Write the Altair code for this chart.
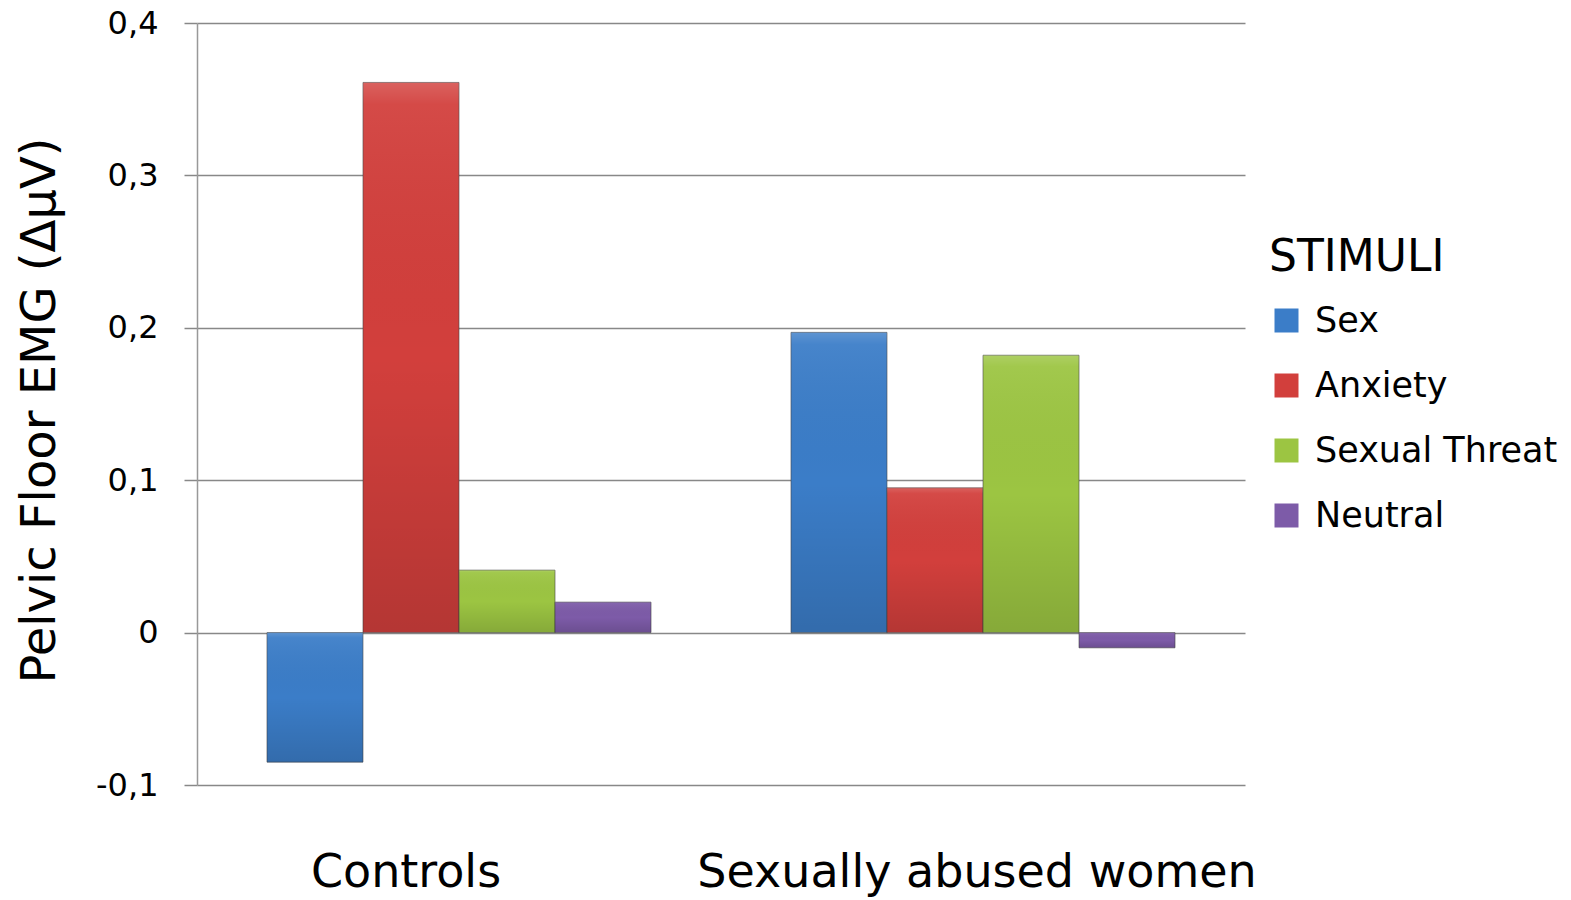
import altair as alt
import pandas as pd

groups = ["Controls", "Sexually abused women"]
stimuli = ["Sex", "Anxiety", "Sexual Threat", "Neutral"]
controls_vals = [-0.085, 0.361, 0.041, 0.020]
abused_vals = [0.197, 0.095, 0.182, -0.010]
colors = ["#3b7dc8", "#d23f3c", "#9cc542", "#7d5ba8"]

rows = []
for s, v in zip(stimuli, controls_vals):
    rows.append({"group": groups[0], "stim": s, "value": v})
for s, v in zip(stimuli, abused_vals):
    rows.append({"group": groups[1], "stim": s, "value": v})
df = pd.DataFrame(rows)

FONT = "DejaVu Sans"

x_enc = alt.X("group:N", sort=groups, title=None,
              scale=alt.Scale(paddingInner=0, paddingOuter=0),
              axis=alt.Axis(labelAngle=0, labelFontSize=46, labelFont=FONT, labelColor="#000",
                            labelLimit=0,
                            labelOffset={"condition": {"test": "datum.label == 'Controls'", "value": -53},
                                         "value": -6},
                            ticks=False, domain=False, grid=False, labelPadding=65))
xo_enc = alt.XOffset("stim:N", sort=stimuli,
                     scale=alt.Scale(paddingInner=0, paddingOuter=0.729))
y_enc = alt.Y("value:Q", title="Pelvic Floor EMG (ΔμV)",
              scale=alt.Scale(domain=[-0.1, 0.4], nice=False),
              axis=alt.Axis(values=[-0.1, 0, 0.1, 0.2, 0.3, 0.4],
                            labelExpr="datum.value == 0 ? '0' : replace(replace(format(datum.value, '.1f'), '.', ','), '\u2212', '-')",
                            labelFontSize=32, labelFont=FONT, labelColor="#000", labelPadding=26,
                            tickSize=13, tickColor="#888888", tickWidth=1.5,
                            domainColor="#999999", domainWidth=1.5,
                            grid=True, gridColor="#888888", gridWidth=1.5,
                            titleFontSize=48, titleFont=FONT, titleFontWeight="normal",
                            titleColor="#000", titleX=-157, titleY=387, titleBaseline="middle"))

bars = alt.Chart(df).mark_bar(stroke="#444444", strokeWidth=1, strokeOpacity=0.6).encode(
    x=x_enc, xOffset=xo_enc, y=y_enc,
    color=alt.Color("stim:N", sort=stimuli,
                    scale=alt.Scale(domain=stimuli, range=colors),
                    legend=alt.Legend(title="STIMULI", orient="none", legendX=1072, legendY=213,
                                      titleFontSize=44, titleFont=FONT, titleFontWeight="normal",
                                      titleColor="#000", titlePadding=23,
                                      labelFontSize=35, labelFont=FONT, labelColor="#000",
                                      labelLimit=0,
                                      symbolType="square", symbolSize=576, symbolStrokeWidth=0,
                                      rowPadding=29, labelOffset=11)),
)

shade = alt.Chart(df).mark_bar(
    fill={"gradient": "linear", "x1": 0, "y1": 0, "x2": 0, "y2": 1,
          "stops": [{"offset": 0, "color": "rgba(255,255,255,0.18)"},
                    {"offset": 0.04, "color": "rgba(255,255,255,0.06)"},
                    {"offset": 0.5, "color": "rgba(0,0,0,0)"},
                    {"offset": 1, "color": "rgba(0,0,0,0.14)"}]},
    stroke=None,
).encode(x=x_enc, xOffset=xo_enc, y=y_enc)

chart = alt.layer(bars, shade).properties(
    width=1048, height=762,
    autosize=alt.AutoSizeParams(type="none"),
    padding={"left": 197, "top": 23, "right": 326, "bottom": 115},
    background="white",
).configure_view(strokeWidth=0, stroke="transparent")

chart.save("out.html", embed_options={"renderer": "svg", "actions": False})
